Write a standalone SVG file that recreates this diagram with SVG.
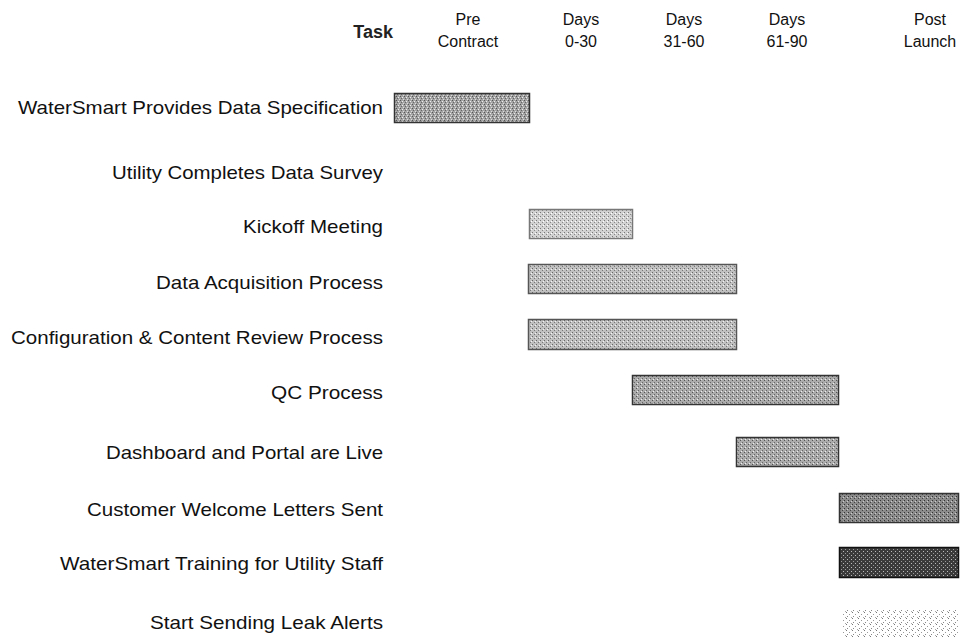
<svg xmlns="http://www.w3.org/2000/svg" width="961" height="637" viewBox="0 0 961 637">
<style>
text{font-family:"Liberation Sans",Arial,Helvetica,sans-serif;fill:#111}
.lbl{font-size:19px;text-anchor:end}
.hd{font-size:16px;text-anchor:middle}
.task{font-size:18px;text-anchor:end;font-weight:bold;fill:#222}
.bar{stroke:#333;stroke-width:1.5}
</style>
<defs>
<pattern id="pMed" width="4" height="4" patternUnits="userSpaceOnUse">
<rect width="4" height="4" fill="#a3a3a3"/>
<rect x="0" y="0" width="1" height="1" fill="#555"/>
<rect x="2" y="1" width="1" height="1" fill="#eee"/>
<rect x="1" y="2" width="1" height="1" fill="#666"/>
<rect x="3" y="3" width="1" height="1" fill="#ddd"/>
</pattern>
<pattern id="pLight" width="4" height="4" patternUnits="userSpaceOnUse">
<rect width="4" height="4" fill="#d2d2d2"/>
<rect x="0" y="0" width="1" height="1" fill="#777"/>
<rect x="2" y="2" width="1" height="1" fill="#888"/>
<rect x="3" y="1" width="1" height="1" fill="#fff"/>
</pattern>
<pattern id="pLM" width="4" height="4" patternUnits="userSpaceOnUse">
<rect width="4" height="4" fill="#c0c0c0"/>
<rect x="0" y="0" width="1" height="1" fill="#666"/>
<rect x="2" y="2" width="1" height="1" fill="#777"/>
<rect x="3" y="1" width="1" height="1" fill="#f4f4f4"/>
</pattern>
<pattern id="pQC" width="4" height="4" patternUnits="userSpaceOnUse">
<rect width="4" height="4" fill="#ababab"/>
<rect x="0" y="0" width="1" height="1" fill="#555"/>
<rect x="2" y="2" width="1" height="1" fill="#666"/>
<rect x="1" y="3" width="1" height="1" fill="#eee"/>
</pattern>
<pattern id="pDark" width="4" height="4" patternUnits="userSpaceOnUse">
<rect width="4" height="4" fill="#8c8c8c"/>
<rect x="0" y="0" width="1" height="1" fill="#333"/>
<rect x="2" y="2" width="1" height="1" fill="#444"/>
<rect x="3" y="1" width="1" height="1" fill="#ccc"/>
</pattern>
<pattern id="pBlack" width="4" height="4" patternUnits="userSpaceOnUse">
<rect width="4" height="4" fill="#3a3a3a"/>
<rect x="1" y="1" width="1" height="1" fill="#999"/>
<rect x="3" y="3" width="1" height="1" fill="#bbb"/>
</pattern>
<pattern id="pDots" width="6" height="6" patternUnits="userSpaceOnUse">
<rect x="0" y="0" width="1" height="1" fill="#777"/>
<rect x="3" y="2" width="1" height="1" fill="#999"/>
<rect x="1" y="4" width="1" height="1" fill="#888"/>
<rect x="5" y="5" width="1" height="1" fill="#aaa"/>
</pattern>
</defs>

<g id="header">
<text class="task" x="393" y="38">Task</text>
<text class="hd" x="468" y="25">Pre</text>
<text class="hd" x="468" y="47">Contract</text>
<text class="hd" x="581" y="25">Days</text>
<text class="hd" x="581" y="47">0-30</text>
<text class="hd" x="684" y="25">Days</text>
<text class="hd" x="684" y="47">31-60</text>
<text class="hd" x="787" y="25">Days</text>
<text class="hd" x="787" y="47">61-90</text>
<text class="hd" x="930" y="25">Post</text>
<text class="hd" x="930" y="47">Launch</text>
</g>

<g id="row1">
<text class="lbl" x="383" y="114" textLength="365" lengthAdjust="spacingAndGlyphs">WaterSmart Provides Data Specification</text>
<rect class="bar" x="394.5" y="93.5" width="135" height="29" fill="url(#pMed)"/>
</g>
<g id="row2">
<text class="lbl" x="383" y="179" textLength="271" lengthAdjust="spacingAndGlyphs">Utility Completes Data Survey</text>
</g>
<g id="row3">
<text class="lbl" x="383" y="233" textLength="140" lengthAdjust="spacingAndGlyphs">Kickoff Meeting</text>
<rect x="529.5" y="209.5" width="103" height="29" fill="url(#pLight)" stroke="#777" stroke-width="1.5"/>
</g>
<g id="row4">
<text class="lbl" x="383" y="289" textLength="227" lengthAdjust="spacingAndGlyphs">Data Acquisition Process</text>
<rect x="528.5" y="264.5" width="208" height="29" fill="url(#pLM)" stroke="#555" stroke-width="1.5"/>
</g>
<g id="row5">
<text class="lbl" x="383" y="344" textLength="372" lengthAdjust="spacingAndGlyphs">Configuration &amp; Content Review Process</text>
<rect x="528.5" y="319.5" width="208" height="30" fill="url(#pLM)" stroke="#555" stroke-width="1.5"/>
</g>
<g id="row6">
<text class="lbl" x="383" y="399" textLength="112" lengthAdjust="spacingAndGlyphs">QC Process</text>
<rect class="bar" x="632.5" y="375.5" width="206" height="29" fill="url(#pQC)"/>
</g>
<g id="row7">
<text class="lbl" x="383" y="459" textLength="277" lengthAdjust="spacingAndGlyphs">Dashboard and Portal are Live</text>
<rect class="bar" x="736.5" y="437.5" width="102" height="29" fill="url(#pQC)"/>
</g>
<g id="row8">
<text class="lbl" x="383" y="516" textLength="296" lengthAdjust="spacingAndGlyphs">Customer Welcome Letters Sent</text>
<rect class="bar" x="839.5" y="493.5" width="119" height="29" fill="url(#pDark)"/>
</g>
<g id="row9">
<text class="lbl" x="383" y="570" textLength="323" lengthAdjust="spacingAndGlyphs">WaterSmart Training for Utility Staff</text>
<rect x="839.5" y="547.5" width="119" height="30" fill="url(#pBlack)" stroke="#111" stroke-width="1.5"/>
</g>
<g id="row10">
<text class="lbl" x="383" y="629" textLength="233" lengthAdjust="spacingAndGlyphs">Start Sending Leak Alerts</text>
<rect x="843" y="609" width="115" height="28" fill="url(#pDots)"/>
</g>
</svg>
